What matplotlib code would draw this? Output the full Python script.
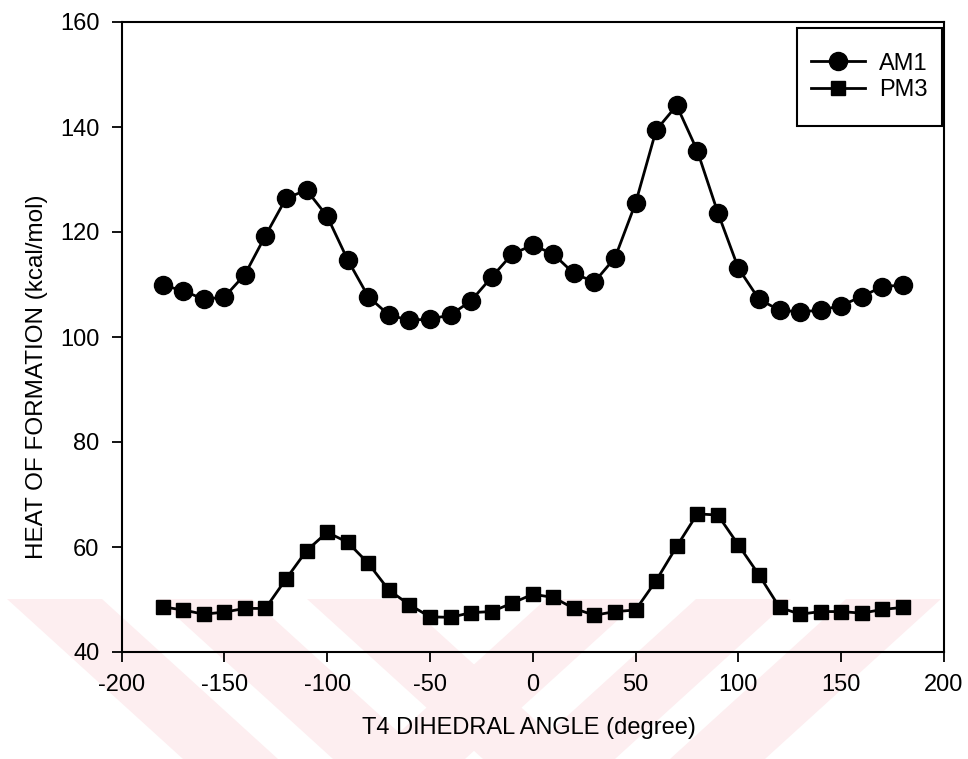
import matplotlib
matplotlib.use('Agg')
import matplotlib.pyplot as plt
from matplotlib.patches import Polygon, Rectangle

# torsion angle (degree) and heat of formation (kcal/mol)
angle = list(range(-180, 190, 10))
am1 = [109.9, 108.8, 107.2, 107.6, 111.9, 119.3, 126.4, 128.0, 123.0, 114.7,
       107.7, 104.2, 103.2, 103.4, 104.2, 106.9, 111.4, 115.8, 117.5, 115.8,
       112.1, 110.5, 115.1, 125.5, 139.4, 144.1, 135.5, 123.7, 113.1, 107.2,
       105.1, 104.8, 105.1, 106.0, 107.7, 109.6, 109.9]
pm3 = [48.6, 48.0, 47.2, 47.6, 48.3, 48.3, 53.9, 59.3, 62.8, 60.9,
       56.9, 51.8, 49.0, 46.7, 46.6, 47.5, 47.7, 49.3, 51.0, 50.4,
       48.3, 47.0, 47.7, 48.0, 53.6, 60.1, 66.3, 66.1, 60.4, 54.7,
       48.5, 47.2, 47.7, 47.7, 47.4, 48.1, 48.5]
xticks = [-200, -150, -100, -50, 0, 50, 100, 150, 200]
yticks = [40, 60, 80, 100, 120, 140, 160]

plt.rcParams['font.family'] = ['Liberation Sans', 'DejaVu Sans']
plt.rcParams['axes.unicode_minus'] = False

W, H = 968, 759
fig = plt.figure(figsize=(W / 100, H / 100), dpi=100)

# faint watermark stripes along the bottom
pink = '#fdeef0'
y0, y1 = 599, 759
s, w = 1.1, 95
def px(x, y):
    return (x / W, 1 - y / H)
for x in [7, 157, 307]:
    pts = [px(x, y0), px(x + w, y0), px(x + w + s * (y1 - y0), y1), px(x + s * (y1 - y0), y1)]
    fig.add_artist(Polygon(pts, closed=True, transform=fig.transFigure, color=pink, lw=0, zorder=-5))
for x in [941, 791, 641]:
    pts = [px(x - w, y0), px(x, y0), px(x - s * (y1 - y0), y1), px(x - w - s * (y1 - y0), y1)]
    fig.add_artist(Polygon(pts, closed=True, transform=fig.transFigure, color=pink, lw=0, zorder=-5))

left, right, top, bottom = 121.5, 944, 22, 652
ax = fig.add_axes([left / W, 1 - bottom / H, (right - left) / W, (bottom - top) / H])
ax.set_facecolor('none')

ax.plot(angle, am1, color='black', lw=2, marker='o', markersize=13, label='AM1')
ax.plot(angle, pm3, color='black', lw=2, marker='s', markersize=9.5, label='PM3')

ax.set_xlim(-200, 200)
ax.set_ylim(40, 160)
ax.set_xticks(xticks)
ax.set_yticks(yticks)
ax.tick_params(direction='out', length=7, width=1.3, labelsize=17, pad=9)
for sp in ax.spines.values():
    sp.set_linewidth(1.5)

ax.set_xlabel('T4 DIHEDRAL ANGLE (degree)', fontsize=17)
ax.set_ylabel('HEAT OF FORMATION (kcal/mol)', fontsize=17.5)
ax.xaxis.set_label_coords(0.495, -0.103)
ax.yaxis.set_label_coords(-0.089, 0.437)

# legend box is taller than its two rows, so draw the frame separately
bx0, bx1, by0, by1 = 0.8213, 0.9976, 0.835, 0.9905
ax.add_patch(Rectangle((bx0, by0), bx1 - bx0, by1 - by0, transform=ax.transAxes,
                       fill=False, edgecolor='black', lw=1.5, zorder=5))
ax.legend(loc='center', bbox_to_anchor=((bx0 + bx1) / 2, (by0 + by1) / 2), frameon=False,
          fontsize=17, handlelength=2.3, handletextpad=0.6, labelspacing=0.2,
          borderpad=0, borderaxespad=0)

fig.savefig('out.png', dpi=100)
